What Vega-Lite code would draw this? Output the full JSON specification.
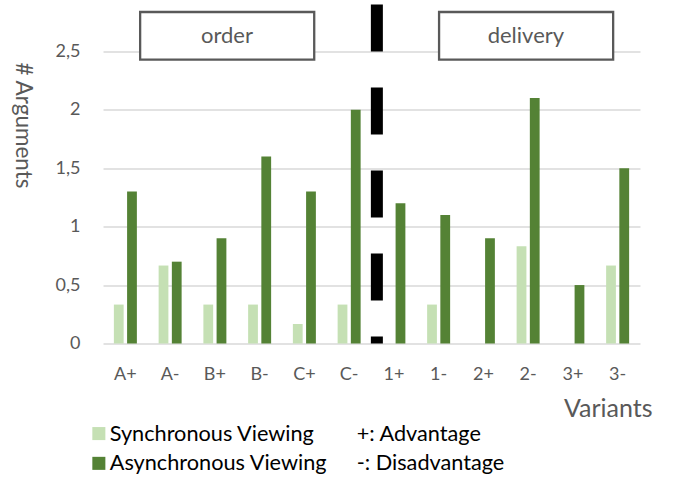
{
  "$schema": "https://vega.github.io/schema/vega-lite/v6.json",
  "width": 537,
  "height": 339,
  "autosize": {"type": "none"},
  "padding": {"left": 103, "top": 4.5, "right": 34, "bottom": 133.5},
  "background": "white",
  "config": {"font": "Lato", "view": {"stroke": null}},
  "resolve": {"scale": {"x": "independent"}},
  "layer": [
    {
      "data": {"values": [
        {"variant": "A+", "series": "Synchronous Viewing", "value": 0.333},
        {"variant": "A-", "series": "Synchronous Viewing", "value": 0.667},
        {"variant": "B+", "series": "Synchronous Viewing", "value": 0.333},
        {"variant": "B-", "series": "Synchronous Viewing", "value": 0.333},
        {"variant": "C+", "series": "Synchronous Viewing", "value": 0.167},
        {"variant": "C-", "series": "Synchronous Viewing", "value": 0.333},
        {"variant": "1+", "series": "Synchronous Viewing", "value": 0},
        {"variant": "1-", "series": "Synchronous Viewing", "value": 0.333},
        {"variant": "2+", "series": "Synchronous Viewing", "value": 0},
        {"variant": "2-", "series": "Synchronous Viewing", "value": 0.833},
        {"variant": "3+", "series": "Synchronous Viewing", "value": 0},
        {"variant": "3-", "series": "Synchronous Viewing", "value": 0.667},
        {"variant": "A+", "series": "Asynchronous Viewing", "value": 1.3},
        {"variant": "A-", "series": "Asynchronous Viewing", "value": 0.7},
        {"variant": "B+", "series": "Asynchronous Viewing", "value": 0.9},
        {"variant": "B-", "series": "Asynchronous Viewing", "value": 1.6},
        {"variant": "C+", "series": "Asynchronous Viewing", "value": 1.3},
        {"variant": "C-", "series": "Asynchronous Viewing", "value": 2.0},
        {"variant": "1+", "series": "Asynchronous Viewing", "value": 1.2},
        {"variant": "1-", "series": "Asynchronous Viewing", "value": 1.1},
        {"variant": "2+", "series": "Asynchronous Viewing", "value": 0.9},
        {"variant": "2-", "series": "Asynchronous Viewing", "value": 2.1},
        {"variant": "3+", "series": "Asynchronous Viewing", "value": 0.5},
        {"variant": "3-", "series": "Asynchronous Viewing", "value": 1.5}
      ]},
      "mark": {"type": "bar"},
      "encoding": {
        "x": {
          "field": "variant", "type": "nominal",
          "sort": ["A+", "A-", "B+", "B-", "C+", "C-", "1+", "1-", "2+", "2-", "3+", "3-"],
          "scale": {"paddingInner": 0.486, "paddingOuter": 0.243},
          "axis": {
            "title": "Variants", "labelAngle": 0, "labelFontSize": 18, "labelColor": "#595959",
            "labelPadding": 22, "domain": false, "ticks": false,
            "titleFontSize": 25, "titleColor": "#595959", "titleFontWeight": "normal",
            "titleAnchor": "end", "titleAlign": "right", "titleBaseline": "alphabetic",
            "titleX": 549, "titleY": 73
          }
        },
        "xOffset": {
          "field": "series", "type": "nominal",
          "sort": ["Synchronous Viewing", "Asynchronous Viewing"],
          "scale": {"domain": ["Synchronous Viewing", "Asynchronous Viewing"], "paddingInner": 0.26, "paddingOuter": 0}
        },
        "y": {
          "field": "value", "type": "quantitative", "title": "# Arguments",
          "scale": {"domain": [0, 2.9], "nice": false},
          "axis": {
            "values": [0, 0.5, 1, 1.5, 2, 2.5], "format": ".1~f",
            "labelExpr": "replace(datum.label, '.', ',')",
            "labelFontSize": 18, "labelColor": "#595959", "labelPadding": 23,
            "domain": false, "ticks": false,
            "gridColor": "#d9d9d9", "gridWidth": 1.3,
            "titleFontSize": 22.5, "titleColor": "#595959", "titleFontWeight": "normal",
            "titleAngle": 90, "titleBaseline": "middle", "titleAlign": "center",
            "titleX": -81, "titleY": 120.5
          }
        },
        "color": {
          "field": "series", "type": "nominal",
          "scale": {
            "domain": ["Synchronous Viewing", "Asynchronous Viewing", "+: Advantage", "-: Disadvantage"],
            "range": ["#c5e0b4", "#548235", "transparent", "transparent"]
          },
          "legend": {
            "title": null, "orient": "none", "legendX": -15, "legendY": 418,
            "columns": 2, "columnPadding": 7, "rowPadding": 7,
            "symbolType": "square", "symbolSize": 170, "symbolStrokeWidth": 0, "symbolOpacity": 1,
            "labelFontSize": 21.7, "labelColor": "#000000", "labelOffset": 0, "labelLimit": 400,
            "padding": 0
          }
        }
      }
    },
    {
      "data": {"values": [
        {"name": "order", "x0": 0.83, "x1": 4.72, "y0": 2.429, "y1": 2.836},
        {"name": "delivery", "x0": 7.51, "x1": 11.4, "y0": 2.429, "y1": 2.836}
      ]},
      "mark": {"type": "rect", "fill": "white", "stroke": "#595959", "strokeWidth": 2.3},
      "encoding": {
        "x": {"field": "x0", "type": "quantitative", "scale": {"domain": [0, 12], "nice": false, "zero": false}, "axis": null},
        "x2": {"field": "x1"},
        "y": {"field": "y0", "type": "quantitative", "title": "# Arguments"},
        "y2": {"field": "y1"}
      }
    },
    {
      "data": {"values": [
        {"name": "order", "xm": 2.77, "ym": 2.632},
        {"name": "delivery", "xm": 9.45, "ym": 2.632}
      ]},
      "mark": {"type": "text", "fontSize": 22, "color": "#595959", "baseline": "middle", "align": "center"},
      "encoding": {
        "x": {"field": "xm", "type": "quantitative", "scale": {"domain": [0, 12], "nice": false, "zero": false}, "axis": null},
        "y": {"field": "ym", "type": "quantitative", "title": "# Arguments"},
        "text": {"field": "name"}
      }
    },
    {
      "data": {"values": [
        {"pos": 6.12, "top": 2.9, "bottom": 0}
      ]},
      "mark": {"type": "rule", "color": "black", "strokeWidth": 12, "strokeDash": [47, 36], "strokeCap": "butt"},
      "encoding": {
        "x": {"field": "pos", "type": "quantitative", "scale": {"domain": [0, 12], "nice": false, "zero": false}, "axis": null},
        "y": {"field": "top", "type": "quantitative", "title": "# Arguments"},
        "y2": {"field": "bottom"}
      }
    }
  ]
}
